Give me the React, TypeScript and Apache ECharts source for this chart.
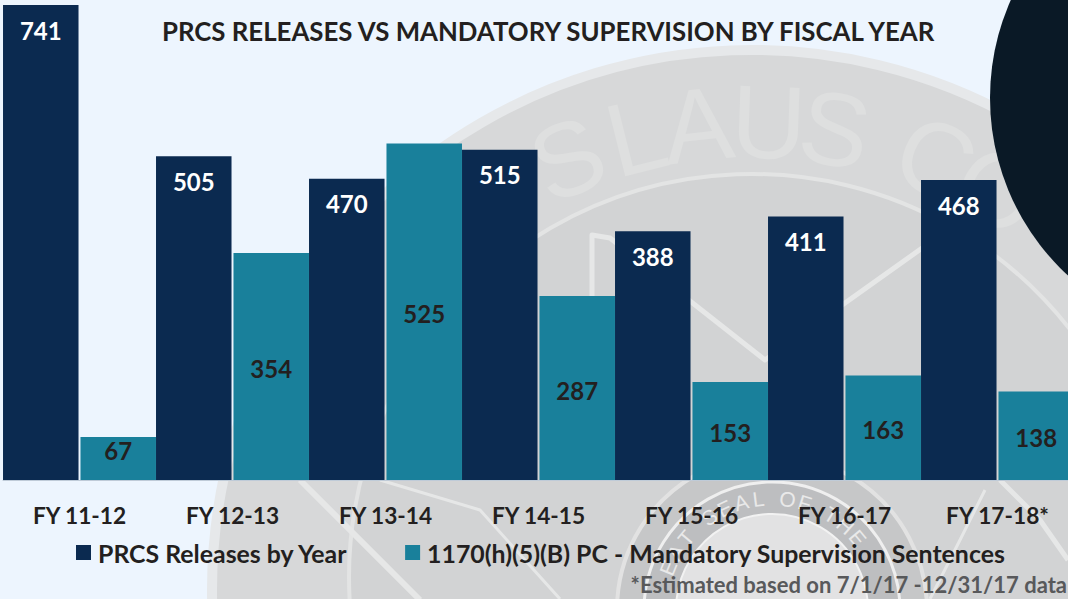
import React, { useEffect, useRef } from "react";
import * as echarts from "echarts";

const categories = ["FY 11-12", "FY 12-13", "FY 13-14", "FY 14-15", "FY 15-16", "FY 16-17", "FY 17-18*"];
const prcsReleases = [741, 505, 470, 515, 388, 411, 468];
const mandatorySupervision = [67, 354, 525, 287, 153, 163, 138];
const titleText = "PRCS RELEASES VS MANDATORY SUPERVISION BY FISCAL YEAR";
const footnote = "*Estimated based on 7/1/17 -12/31/17 data";
const sealWord = ["I", "S", "L", "A", "U", "S", "C", "O"];
const sealAngles = [-30, -22.7, -14, -6.5, 2, 10, 22.6, 31];
const innerWord = ["E", "A", "T", "S", "E", "A", "L", "O", "F", "T", "H", "E"];
const innerAngles = [-68, -59, -50, -34, -25, -16, -7, 8, 17, 32, 41, 50];

const FONT = "Lato, 'Open Sans', sans-serif";
const NAVY = "#0B2A50";
const TEAL = "#19809B";
const Z = -10;

export default function App() {
  const ref = useRef<HTMLDivElement>(null);
  useEffect(() => {
    const chart = echarts.init(ref.current!, undefined, { renderer: "svg" });
    const cx = 752, cy = 590;
    const letters = sealWord.map((ch, i) => {
      const r = (sealAngles[i] * Math.PI) / 180;
      return {
        type: "text", x: cx + 478 * Math.sin(r), y: cy + 10 - 478 * Math.cos(r), rotation: -r, z: Z,
        style: { text: ch, font: "104px 'Liberation Sans', sans-serif", fill: "#DEDFDF", align: "center", verticalAlign: "middle" },
      };
    });
    const inner = innerWord.map((ch, i) => {
      const r = (innerAngles[i] * Math.PI) / 180;
      return {
        type: "text", x: 772 + 112 * Math.sin(r), y: 610 - 112 * Math.cos(r), rotation: -r, z: Z,
        style: { text: ch, font: "21px 'Liberation Sans', sans-serif", fill: "#E9E9E9", align: "center", verticalAlign: "middle" },
      };
    });
    const star = (pts: number[][], w = 5) => ({
      type: "polyline", z: Z, shape: { points: pts }, style: { fill: "none", stroke: "#E6E7E7", lineWidth: w, lineJoin: "round" },
    });
    chart.setOption({
      animation: false,
      backgroundColor: "#EDF5FE",
      title: {
        text: titleText, left: 157, top: 13,
        textStyle: { fontFamily: FONT, fontWeight: 700, fontSize: 25.8, color: "#231F20" },
      },
      grid: { left: 3, top: 5, width: 1071, height: 475, containLabel: false, outerBoundsMode: "none" },
      legend: {
        left: 71, top: 535, itemWidth: 15, itemHeight: 15, itemGap: 57, icon: "rect",
        textStyle: { fontFamily: FONT, fontWeight: 700, fontSize: 24.85, color: "#231F20", padding: [0, 0, 0, 2] },
      },
      xAxis: {
        type: "category", data: categories,
        axisTick: { show: false },
        axisLine: { lineStyle: { color: "#BFCBD8", width: 1 } },
        axisLabel: { margin: 24, fontFamily: FONT, fontWeight: 700, fontSize: 22.7, color: "#231F20", interval: 0 },
      },
      yAxis: { type: "value", min: 0, max: 741, show: false, splitLine: { show: false } },
      series: [
        {
          type: "bar", name: "PRCS Releases by Year", data: prcsReleases,
          barWidth: 75.5, barGap: "2.6%", barCategoryGap: 0,
          itemStyle: { color: NAVY },
          label: { show: true, position: "insideTop", distance: 13, fontFamily: FONT, fontWeight: 700, fontSize: 24, color: "#FFFFFF" },
        },
        {
          type: "bar", name: "1170(h)(5)(B) PC - Mandatory Supervision Sentences",
          data: mandatorySupervision.map((v, i) => (i === 0 ? { value: v, label: { offset: [0, -8] } } : v)),
          barWidth: 75.5,
          itemStyle: { color: TEAL },
          label: { show: true, position: "inside", offset: [0, 2], fontFamily: FONT, fontWeight: 700, fontSize: 24, color: "#231F20" },
        },
      ],
      graphic: {
        elements: [
          { type: "circle", z: Z, shape: { cx, cy, r: 540 }, style: { fill: "#D7D8D9", stroke: "#E6E8EA", lineWidth: 10 } },
          { type: "circle", z: Z, shape: { cx, cy: 577, r: 403 }, style: { fill: "#D2D3D4", stroke: "#E3E4E4", lineWidth: 4 } },
          ...letters,
          star([[592, 400], [592, 235], [610, 238], [765, 360], [925, 246]]),
          star([[300, 480], [420, 600]], 6),
          star([[1000, 480], [1040, 520], [1068, 560]], 5),
          { type: "circle", z: Z, shape: { cx: 772, cy: 610, r: 155 }, style: { fill: "#C6C7C8", stroke: "#E2E2E2", lineWidth: 4 } },
          { type: "circle", z: Z, shape: { cx: 772, cy: 610, r: 128 }, style: { fill: "#BDBEC0", stroke: "#EFEFEF", lineWidth: 3 } },
          { type: "circle", z: Z, shape: { cx: 772, cy: 610, r: 96 }, style: { fill: "#E2E2E3", stroke: "#F2F2F2", lineWidth: 2 } },
          ...inner,
          star([[380, 480], [480, 510], [560, 599]], 3),
          star([[985, 490], [960, 540], [930, 599]], 3),
          {
            type: "text", right: 1, top: 573, z: 5,
            style: { text: footnote, font: "700 22px Lato, sans-serif", fill: "#58595B", align: "right" },
          },
          { type: "circle", z: 5, shape: { cx: 1231, cy: 98, r: 241 }, style: { fill: "#0A1926" } },
        ],
      },
    });
    return () => chart.dispose();
  }, []);
  return <div ref={ref} style={{ position: "fixed", left: 0, top: 0, width: 1068, height: 599 }} />;
}
